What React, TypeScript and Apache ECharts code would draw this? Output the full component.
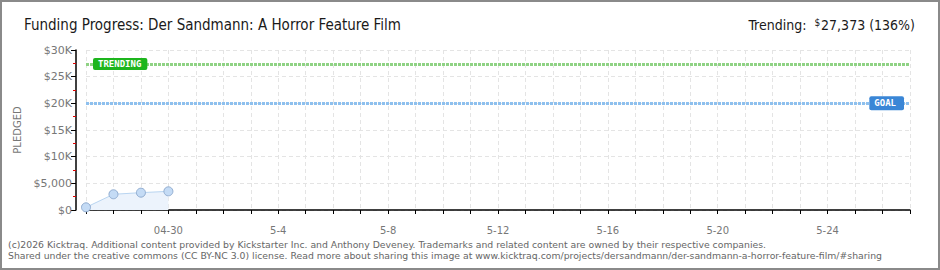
import React, { useEffect, useRef } from "react";
import * as echarts from "echarts";

const dates: string[] = [
  "04-27", "04-28", "04-29", "04-30",
  "5-1", "5-2", "5-3", "5-4", "5-5", "5-6", "5-7", "5-8", "5-9", "5-10",
  "5-11", "5-12", "5-13", "5-14", "5-15", "5-16", "5-17", "5-18", "5-19",
  "5-20", "5-21", "5-22", "5-23", "5-24", "5-25", "5-26", "5-27",
];
const pledged: number[] = [500, 2950, 3250, 3500];
const goal = 20000;
const trending = 27373;
const yTicks: number[] = [0, 5000, 10000, 15000, 20000, 25000, 30000];
const yTickLabels: string[] = ["$0", "$5,000", "$10K", "$15K", "$20K", "$25K", "$30K"];

const titleText = "Funding Progress: Der Sandmann: A Horror Feature Film";
const footer1 =
  "(c)2026 Kicktraq. Additional content provided by Kickstarter Inc. and Anthony Deveney. Trademarks and related content are owned by their respective companies.";
const footer2 =
  "Shared under the creative commons (CC BY-NC 3.0) license. Read more about sharing this image at www.kicktraq.com/projects/dersandmann/der-sandmann-a-horror-feature-film/#sharing";

export default function App() {
  const ref = useRef<HTMLDivElement>(null);
  useEffect(() => {
    if (!ref.current) return;
    const chart = echarts.init(ref.current, null, { renderer: "svg" });
    const gridFont = "DejaVu Sans";
    chart.setOption({
      animation: false,
      backgroundColor: "#ffffff",
      title: [
        {
          text: titleText,
          left: 19,
          top: 12,
          textStyle: {
            fontFamily: "DejaVu Sans Condensed",
            fontSize: 15,
            fontWeight: "normal",
            color: "#1a1a1a",
          },
        },
        {
          text: "{a|Trending:  }{s|$}{a|27,373 (136%)}",
          right: 20,
          top: 12,
          textStyle: {
            fontWeight: "normal",
            fontFamily: "DejaVu Sans Condensed",
            rich: {
              a: { fontFamily: "DejaVu Sans Condensed", fontSize: 14, fontWeight: "normal", color: "#1a1a1a" },
              s: { fontFamily: "DejaVu Sans Condensed", fontSize: 10, fontWeight: "normal", color: "#1a1a1a", verticalAlign: "top", padding: [0, 1, 6, 0] },
            },
          },
        },
      ],
      grid: { left: 86, right: 30, top: 50, bottom: 60, containLabel: false },
      xAxis: {
        type: "category",
        data: dates,
        boundaryGap: false,
        offset: 10,
        axisLine: { show: true, lineStyle: { color: "#000", width: 1.5 } },
        axisTick: { show: true, interval: 0, length: 4, lineStyle: { color: "#000" } },
        axisLabel: {
          interval: (i: number) => (i - 3) % 4 === 0,
          color: "#777",
          fontFamily: gridFont,
          fontSize: 10,
          margin: 5,
        },
        splitLine: { show: true, interval: 0, lineStyle: { color: "#e4e4e4", type: [4, 3] } },
      },
      yAxis: {
        type: "value",
        min: 0,
        max: 30000,
        interval: 5000,
        offset: 10,
        name: "PLEDGED",
        nameLocation: "middle",
        nameGap: 46,
        nameRotate: 90,
        nameTextStyle: { color: "#777", fontFamily: gridFont, fontSize: 10, letterSpacing: 1 },
        axisLine: { show: true, lineStyle: { color: "#000", width: 1.5 } },
        axisTick: { show: true, length: 5, lineStyle: { color: "#000" } },
        minorTick: { show: true, splitNumber: 2, length: 3, lineStyle: { color: "#e00000" } },
        axisLabel: {
          color: "#777",
          fontFamily: gridFont,
          fontSize: 11,
          margin: 4,
          formatter: (v: number) => {
            const i = yTicks.indexOf(v);
            return i >= 0 ? yTickLabels[i] : "";
          },
        },
        splitLine: { show: true, lineStyle: { color: "#e4e4e4", type: [4, 3] } },
      },
      series: [
        {
          type: "line",
          data: pledged,
          symbol: "circle",
          symbolSize: 9,
          showSymbol: true,
          lineStyle: { color: "#b9d5f1", width: 1 },
          itemStyle: { color: "#c4dbf5", borderColor: "#90acd0", borderWidth: 1 },
          areaStyle: { color: "#ecf3fc", opacity: 1 },
          z: 3,
          markLine: {
            silent: true,
            symbol: "none",
            animation: false,
            data: [
              {
                yAxis: trending,
                lineStyle: { color: "#8fd284", width: 3, type: [3, 1] },
                label: {
                  show: true,
                  position: "insideStartTop",
                  distance: [7, 0],
                  verticalAlign: "middle",
                  formatter: "TRENDING",
                  color: "#fff",
                  backgroundColor: "#1db51d",
                  fontFamily: "DejaVu Sans Mono",
                  fontWeight: "bold",
                  fontSize: 9,
                  padding: [2, 6, 1, 5],
                  borderRadius: 2,
                },
              },
              {
                yAxis: goal,
                lineStyle: { color: "#8ec0ee", width: 3, type: [3, 1] },
                label: {
                  show: true,
                  position: "insideEndTop",
                  distance: [6, 0],
                  verticalAlign: "middle",
                  formatter: "GOAL",
                  color: "#fff",
                  backgroundColor: "#3a86d6",
                  fontFamily: "DejaVu Sans Mono",
                  fontWeight: "bold",
                  fontSize: 9,
                  padding: [3, 8, 2, 5],
                  borderRadius: 2,
                },
              },
            ],
          },
        },
      ],
      graphic: [
        {
          type: "text",
          left: 8,
          top: 240,
          style: { text: footer1, fill: "#666", font: "9.3px 'DejaVu Sans'" },
        },
        {
          type: "text",
          left: 8,
          top: 251,
          style: { text: footer2, fill: "#666", font: "9.3px 'DejaVu Sans'" },
        },
      ],
    });
    return () => chart.dispose();
  }, []);
  return (
    <div style={{ position: "fixed", left: 0, top: 0, width: 940, height: 270 }}>
      <div ref={ref} style={{ width: 940, height: 270 }} />
      <div
        style={{
          position: "absolute",
          left: 0,
          top: 0,
          width: 940,
          height: 270,
          boxSizing: "border-box",
          border: "2px solid #8a8a8a",
          pointerEvents: "none",
        }}
      />
    </div>
  );
}
